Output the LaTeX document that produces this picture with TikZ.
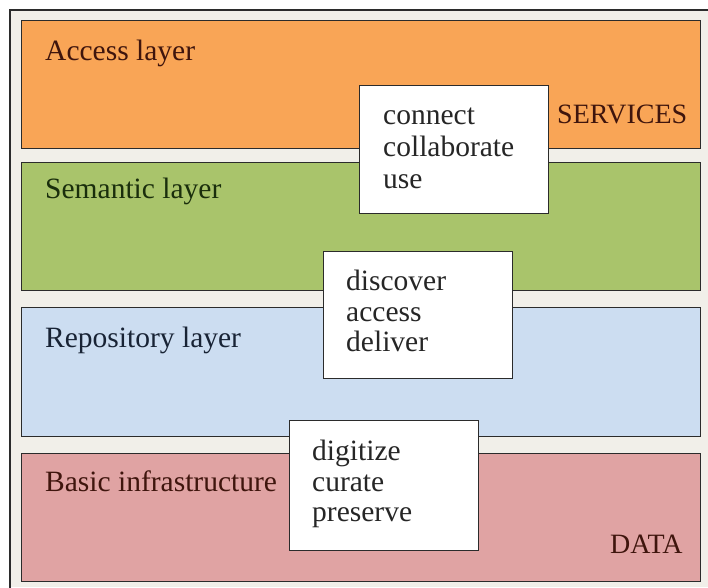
\documentclass[tikz,border=0pt]{standalone}
\usepackage{fontspec}
\setmainfont{Liberation Serif}
\definecolor{bgbeige}{HTML}{F1EFE9}
\definecolor{framec}{HTML}{2B2B2B}
\definecolor{accfill}{HTML}{F9A556}
\definecolor{semfill}{HTML}{A9C46B}
\definecolor{repfill}{HTML}{CCDDF1}
\definecolor{basfill}{HTML}{E0A3A3}
\definecolor{brownt}{HTML}{3F150D}
\definecolor{greent}{HTML}{1A2E0C}
\definecolor{bluet}{HTML}{182335}
\definecolor{boxt}{HTML}{262626}
\begin{document}
\begin{tikzpicture}[x=1pt,y=-1pt,
  layer/.style={draw=framec,line width=1.4pt,anchor=north west,inner sep=0pt,minimum width=679pt},
  wbox/.style={draw=framec,fill=white,line width=1.4pt,anchor=north west,inner sep=0pt,minimum width=189pt},
  txt/.style={anchor=base west,inner sep=0pt,font=\fontsize{29.5}{32}\selectfont},
  tagtxt/.style={txt,font=\fontsize{28}{32}\selectfont,text=brownt},
  btxt/.style={txt,text=boxt}]
\useasboundingbox (0,0) rectangle (708,587);
\fill[white] (0,0) rectangle (708,587);
\fill[bgbeige] (10,10) rectangle (708,587);
\draw[framec,line width=1.6pt] (10,600) -- (10,10) -- (720,10);
% layers
\node[layer,fill=accfill,minimum height=128pt] (acc) at (21,20) {};
\node[layer,fill=semfill,minimum height=128pt] (sem) at (21,162) {};
\node[layer,fill=repfill,minimum height=129pt] (rep) at (21,307) {};
\node[layer,fill=basfill,minimum height=128pt] (bas) at (21,453) {};
% white boxes
\node[wbox,minimum height=128pt] (b1) at (359,85) {};
\node[wbox,minimum height=127pt] (b2) at (323,251) {};
\node[wbox,minimum height=130pt] (b3) at (289,420) {};
% layer labels
\node[txt,text=brownt] (t1) at (45,60) {Access layer};
\node[txt,text=greent] (t2) at (45,198) {Semantic layer};
\node[txt,text=bluet] (t3) at (45,347) {Repository layer};
\node[txt,text=brownt] (t4) at (45,491) {Basic infrastructure};
\node[tagtxt] (sv) at (557,123) {SERVICES};
\node[tagtxt] (dt) at (610,553) {DATA};
% box texts
\node[btxt] (c1) at (383,124) {connect};
\node[btxt] (c2) at (383,156) {collaborate};
\node[btxt] (c3) at (383,188) {use};
\node[btxt] (d1) at (346,290) {discover};
\node[btxt] (d2) at (346,321) {access};
\node[btxt] (d3) at (346,351) {deliver};
\node[btxt] (g1) at (312,460) {digitize};
\node[btxt] (g2) at (312,491) {curate};
\node[btxt] (g3) at (312,521) {preserve};
\end{tikzpicture}
\end{document}
